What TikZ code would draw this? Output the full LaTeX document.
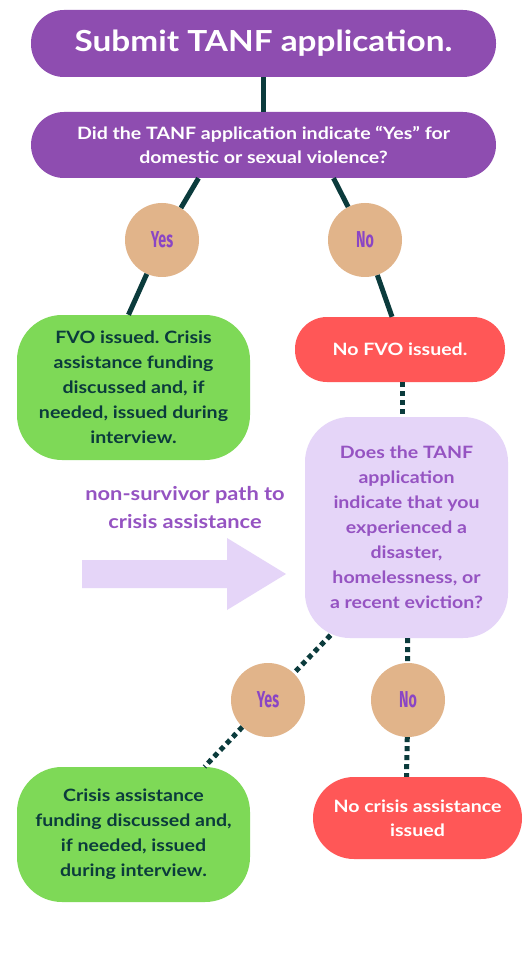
\documentclass[tikz,border=0pt]{standalone}
\usepackage{fontspec}
\setmainfont{Lato}[FakeStretch=1.15]
\newfontfamily\condfont{Fira Sans}[FakeStretch=0.62]
\usetikzlibrary{calc}
\frenchspacing
\definecolor{cpurple}{HTML}{8E4DB0}
\definecolor{cgreen}{HTML}{7ED957}
\definecolor{cred}{HTML}{FF5757}
\definecolor{ctan}{HTML}{E1B48A}
\definecolor{clav}{HTML}{E5D5F8}
\definecolor{cdark}{HTML}{0B3B3C}
\definecolor{ctxtpurple}{HTML}{9553C2}
\definecolor{cyn}{HTML}{8A45C5}
\begin{document}
\begin{tikzpicture}[x=1pt,y=-1pt,
  box/.style={rectangle,inner sep=0pt,align=center,font=\bfseries},
  purplebox/.style={box,fill=cpurple,text=white,minimum width=465pt,rounded corners=33pt},
  greenbox/.style={box,fill=cgreen,text=cdark,minimum width=233pt,rounded corners=45pt},
  redbox/.style={box,fill=cred,text=white},
  lavbox/.style={box,fill=clav,text=ctxtpurple,rounded corners=45pt},
  answer/.style={circle,fill=ctan,minimum size=74pt,inner sep=0pt,text=cyn,font=\condfont\bfseries\fontsize{23}{23}\selectfont},
  solidline/.style={line width=5pt,draw=cdark},
  dotline/.style={line width=5pt,draw=cdark,dash pattern=on 5pt off 4pt}
]
\useasboundingbox (0,0) rectangle (531,973);
\fill[white] (0,0) rectangle (531,973);

\node[purplebox,minimum height=67pt,font=\bfseries\fontsize{29}{30}\selectfont] (top) at (263.5,43.5) {Submit TANF application.};
\node[purplebox,minimum height=66pt,font=\bfseries\fontsize{17}{24}\selectfont] (q1) at (263.5,145) {Did the TANF application indicate “Yes” for\\domestic or sexual violence?};

\node[answer] (yes1) at (162,240) {Yes};
\node[answer] (no1) at (365,240) {No};

\node[greenbox,minimum height=145pt,font=\bfseries\fontsize{17}{25}\selectfont] (g1) at (133.5,387.5) {FVO issued. Crisis\\assistance funding\\discussed and, if\\needed, issued during\\interview.};
\node[redbox,minimum width=210pt,minimum height=65pt,rounded corners=32pt,font=\bfseries\fontsize{17}{25}\selectfont] (r1) at (400,349.5) {No FVO issued.};

\node[lavbox,minimum width=203pt,minimum height=221pt,font=\bfseries\fontsize{17}{25}\selectfont] (lav) at (406.5,527.5) {Does the TANF\\application\\indicate that you\\experienced a\\disaster,\\homelessness, or\\a recent eviction?};

\node[box,text=ctxtpurple,font=\bfseries\fontsize{19}{28}\selectfont] (lbl) at (185,508) {non-survivor path to\\crisis assistance};
\fill[clav] (82,560) -- (227,560) -- (227,538) -- (286,574) -- (227,610) -- (227,588) -- (82,588) -- cycle;

\node[answer] (yes2) at (268,700) {Yes};
\node[answer] (no2) at (408,700) {No};

\node[greenbox,minimum height=135pt,font=\bfseries\fontsize{17}{25}\selectfont] (g2) at (133.5,834.5) {Crisis assistance\\funding discussed and,\\if needed, issued\\during interview.};
\node[redbox,minimum width=209pt,minimum height=82pt,rounded corners=41pt,font=\bfseries\fontsize{17}{24}\selectfont] (r2) at (417.5,818) {No crisis assistance\\issued};

\draw[solidline] (top.south) -- (q1.north);
\draw[solidline] ($(q1.south)+(-65,0)$) -- (yes1);
\draw[solidline] (yes1) -- ($(g1.north)+(-5,0)$);
\draw[solidline] ($(q1.south)+(70,0)$) -- (no1);
\draw[solidline] (no1) -- ($(r1.north)+(-8,0)$);
\draw[dotline] ($(r1.south)+(2,0)$) -- ($(lav.north)+(-4.5,0)$);
\draw[dotline] ($(lav.south)+(-76,-3)$) -- (yes2);
\draw[dotline] (yes2) -- ($(g2.north)+(71,0)$);
\draw[dotline] ($(lav.south)+(1,0)$) -- (no2);
\draw[dotline] (no2) -- ($(r2.north)+(-11,0)$);
\end{tikzpicture}
\end{document}
